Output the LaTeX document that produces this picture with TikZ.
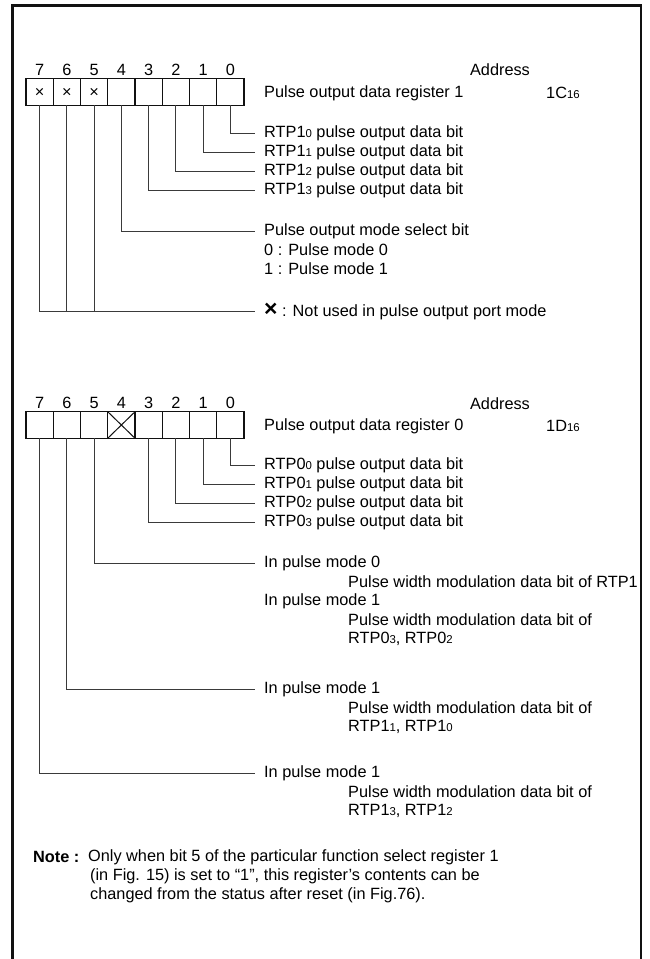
\documentclass[tikz,border=0pt]{standalone}
\usepackage{fontspec}
\setmainfont{Liberation Sans}
\usetikzlibrary{positioning,calc}
\definecolor{prink}{HTML}{111111}
\definecolor{prlead}{HTML}{3A3A3A}
\newcommand{\lo}[1]{{\fontsize{11.4}{12}\selectfont #1}}
\tikzset{
  prcell/.style={draw=prink, line width=1.1pt, minimum width=27.25pt,
                 minimum height=26.5pt, inner sep=0pt, outer sep=0pt,
                 font=\fontsize{16.3}{18}\selectfont},
  prbit/.style={font=\fontsize{16.3}{18}\selectfont, inner sep=0pt,
                text height=11.7pt, text depth=0pt},
  prtext/.style={font=\fontsize{16.3}{19.5}\selectfont, anchor=west,
                 inner xsep=9pt, inner ysep=0pt},
  prsub/.style={prtext, inner xsep=0pt},
  prlead/.style={draw=prlead, line width=1pt},
}

\begin{document}
\begin{tikzpicture}[x=1pt,y=-1pt]
  \useasboundingbox (0,0) rectangle (649,959);
  \draw[prink,line width=2.4pt] (12.5,959) -- (12.5,5.5) -- (641,5.5) -- (641,959);

  % register 1
  \foreach \b in {0,...,7} {
    \node[prcell] (r1b\b) at ({230.375-27.25*\b},92) {};
    \node[prbit, above=3.5pt of r1b\b] {\b};
  }
  \foreach \b in {5,6,7} \node[prbit] at (r1b\b) {×};
  \node[prbit] (r1head) at (500,70) {Address};
  \node[prtext] (r1name) at (255,93) {Pulse output data register 1};
  \node[prsub] (r1addr) at (546,93) {1C\lo{16}};

  \foreach \b/\yy in {0/133, 1/152, 2/171, 3/190} {
    \node[prtext] (t1\b) at (255,\yy) {RTP1\lo{\b} pulse output data bit};
    \draw[prlead] (r1b\b.south) |- (t1\b.west);
  }
  \node[prtext] (tmode) at (255,231) {Pulse output mode select bit};
  \node[prtext] (tmode0) at (255,250) {0 : Pulse mode 0};
  \node[prtext] (tmode1) at (255,269) {1 : Pulse mode 1};
  \draw[prlead] (r1b4.south) |- (tmode.west);
  \node[prtext] (tnot) at (255,311)
    {{\fontsize{23}{22}\selectfont\bfseries ×} : Not used in pulse output port mode};
  \draw[prlead] (r1b7.south) |- (tnot.west);
  \foreach \b in {5,6} \draw[prlead] (r1b\b.south) -- (r1b\b.south |- tnot.west);

  % register 0
  \foreach \b in {0,...,7} {
    \node[prcell] (r0b\b) at ({230.375-27.25*\b},425) {};
    \node[prbit, above=3.5pt of r0b\b] {\b};
  }
  \draw[prink,line width=1pt] (r0b4.north west) -- (r0b4.south east)
                              (r0b4.south west) -- (r0b4.north east);
  \node[prbit] (r0head) at (500,404) {Address};
  \node[prtext] (r0name) at (255,426) {Pulse output data register 0};
  \node[prsub] (r0addr) at (546,426) {1D\lo{16}};

  \foreach \b/\yy in {0/465, 1/484, 2/503, 3/522} {
    \node[prtext] (t0\b) at (255,\yy) {RTP0\lo{\b} pulse output data bit};
    \draw[prlead] (r0b\b.south) |- (t0\b.west);
  }

  \node[prtext] (p5a) at (255,563) {In pulse mode 0};
  \node[prsub]  (p5b) at (348,582) {Pulse width modulation data bit of RTP1};
  \node[prtext] (p5c) at (255,601) {In pulse mode 1};
  \node[prsub]  (p5d) at (348,620) {Pulse width modulation data bit of};
  \node[prsub]  (p5e) at (348,639) {RTP0\lo{3}, RTP0\lo{2}};
  \draw[prlead] (r0b5.south) |- (p5a.west);

  \node[prtext] (p6a) at (255,689) {In pulse mode 1};
  \node[prsub]  (p6b) at (348,708) {Pulse width modulation data bit of};
  \node[prsub]  (p6c) at (348,727) {RTP1\lo{1}, RTP1\lo{0}};
  \draw[prlead] (r0b6.south) |- (p6a.west);

  \node[prtext] (p7a) at (255,773) {In pulse mode 1};
  \node[prsub]  (p7b) at (348,792) {Pulse width modulation data bit of};
  \node[prsub]  (p7c) at (348,811) {RTP1\lo{3}, RTP1\lo{2}};
  \draw[prlead] (r0b7.south) |- (p7a.west);

  % note
  \node[prsub] (notehead) at (33,857) {\textbf{Note :}};
  \node[prsub] (note1) at (88,857)
    {Only when bit 5 of the particular function select register 1};
  \node[prsub] (note2) at (90,876)
    {(in Fig. 15) is set to “1”, this register’s contents can be};
  \node[prsub] (note3) at (90,895)
    {changed from the status after reset (in Fig.76).};
\end{tikzpicture}
\end{document}
